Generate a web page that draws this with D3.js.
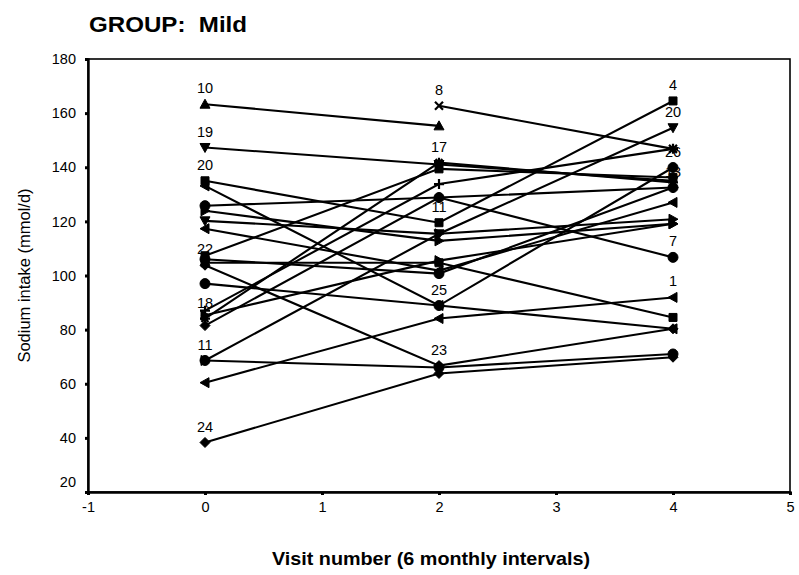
<!DOCTYPE html>
<html>
<head>
<meta charset="utf-8">
<script src="https://cdn.jsdelivr.net/npm/d3@7"></script>
<style>
  body { margin: 0; background: #fff; }
  svg { font-family: "Liberation Sans", Arial, sans-serif; }
</style>
</head>
<body>
<svg id="chart" width="799" height="575"></svg>
<script>
// Visits on the x axis and sodium intake per subject at each visit
const visits = [0, 2, 4];
const xTicks = [-1, 0, 1, 2, 3, 4, 5];
const yTicks = [20, 40, 60, 80, 100, 120, 140, 160, 180];

const visit0 = [163.3, null, 147.3, 135.0, 133.1, 97.0, 104.7, 103.8, 68.6, 38.3, 60.4,
  125.8, 84.1, 87.0, 81.5, 123.9, 120.2, 117.3, 107.3, 68.6, 106.0, 85.3];
const visit2 = [155.3, 162.7, 141.0, 119.5, 88.9, 88.9, 104.7, 66.7, 66.0, 63.8, 84.1,
  128.8, 141.7, 133.8, 128.8, 112.8, 115.4, 101.8, 139.4, 115.4, 100.7, 105.5];
const visit4 = [null, 146.8, 135.0, 164.5, 80.3, 139.9, 84.5, 80.3, 71.0, 69.8, 91.9,
  106.7, 134.4, 146.8, 132.5, 119.1, 154.6, 127.0, 136.2, 120.8, 132.5, 119.1];

// case labels printed above some points
const label0 = ["10", "", "19", "20", "", "", "", "22", "", "24", "", "", "18", "", "", "", "", "", "", "11", "", ""];
const label2 = ["", "8", "", "11", "25", "", "", "23", "", "", "", "", "17", "", "", "", "", "", "", "", "", ""];
const label4 = ["", "", "", "4", "", "26", "", "", "", "", "1", "7", "", "", "13", "", "20", "", "", "", "", ""];

// marker shape for each subject
const shapes = ["up", "x", "down", "square", "left", "circle", "square", "diamond", "circle", "diamond", "left",
  "circle", "star", "plus", "diamond", "right", "down", "left", "square", "right", "circle", "right"];

const width = 799, height = 575;
const margin = { top: 59, right: 9, bottom: 83, left: 88 };

const svg = d3.select("#chart");

const x = d3.scaleLinear().domain([-1, 5]).range([margin.left, width - margin.right]);
const y = d3.scaleLinear().domain([20, 180]).range([height - margin.bottom, margin.top]);

// plain hyphen for negatives, like the original
const fmt = d => String(d);

// plot frame
svg.append("rect")
  .attr("x", x(-1))
  .attr("y", y(180))
  .attr("width", x(5) - x(-1))
  .attr("height", y(20) - y(180))
  .attr("fill", "none")
  .attr("stroke", "#000")
  .attr("stroke-width", 1.6);

// y axis
const yAxis = svg.append("g")
  .attr("transform", `translate(${x(-1)},0)`)
  .call(d3.axisLeft(y).tickValues(yTicks).tickSize(3).tickPadding(9).tickFormat(fmt));
yAxis.select(".domain").attr("stroke-width", 2.4);
yAxis.selectAll(".tick line").attr("stroke-width", 3);
yAxis.selectAll("text")
  .style("font-size", "14.5px")
  .attr("fill", "#000")
  .attr("dy", d => d === 20 ? "-0.35em" : "0.32em");

// x axis
const xAxis = svg.append("g")
  .attr("transform", `translate(0,${y(20)})`)
  .call(d3.axisBottom(x).tickValues(xTicks).tickSize(3).tickPadding(7).tickFormat(fmt));
xAxis.select(".domain").attr("stroke-width", 2.4);
xAxis.selectAll(".tick line").attr("stroke-width", 3);
xAxis.selectAll("text").style("font-size", "14.5px").attr("fill", "#000");

// build one series per subject
const subjects = visit0.map((v, i) => ({
  values: [v, visit2[i], visit4[i]],
  labels: [label0[i], label2[i], label4[i]],
  shape: shapes[i]
}));

const line = d3.line()
  .defined(d => d.v != null)
  .x(d => x(d.visit))
  .y(d => y(d.v));

svg.append("g")
  .selectAll("path")
  .data(subjects)
  .join("path")
  .attr("d", s => line(s.values.map((v, k) => ({ visit: visits[k], v }))))
  .attr("fill", "none")
  .attr("stroke", "#000")
  .attr("stroke-width", 2.1);

// marker paths
function markerPath(shape, r) {
  switch (shape) {
    case "up": return `M0,${-r}L${r},${r * 0.8}L${-r},${r * 0.8}Z`;
    case "down": return `M0,${r}L${r},${-r * 0.8}L${-r},${-r * 0.8}Z`;
    case "left": return `M${-r},0L${r * 0.8},${-r}L${r * 0.8},${r}Z`;
    case "right": return `M${r},0L${-r * 0.8},${-r}L${-r * 0.8},${r}Z`;
    case "square": return `M${-r * 0.8},${-r * 0.8}h${r * 1.6}v${r * 1.6}h${-r * 1.6}Z`;
    case "diamond": return `M0,${-r}L${r},0L0,${r}L${-r},0Z`;
    case "x": return `M${-r * 0.8},${-r * 0.8}L${r * 0.8},${r * 0.8}M${r * 0.8},${-r * 0.8}L${-r * 0.8},${r * 0.8}`;
    case "plus": return `M${-r},0H${r}M0,${-r}V${r}`;
    case "star": return `M${-r},0H${r}M0,${-r}V${r}M${-r * 0.7},${-r * 0.7}L${r * 0.7},${r * 0.7}M${r * 0.7},${-r * 0.7}L${-r * 0.7},${r * 0.7}`;
    default: return d3.symbol(d3.symbolCircle, Math.PI * r * r)();
  }
}

const points = [];
subjects.forEach(s => s.values.forEach((v, k) => {
  if (v != null) points.push({ visit: visits[k], v, shape: s.shape, label: s.labels[k] });
}));

svg.append("g")
  .selectAll("path")
  .data(points)
  .join("path")
  .attr("transform", d => `translate(${x(d.visit)},${y(d.v)})`)
  .attr("d", d => markerPath(d.shape, 5))
  .attr("fill", "#000")
  .attr("stroke", "#000")
  .attr("stroke-width", d => ["x", "plus", "star"].includes(d.shape) ? 2.2 : 1);

svg.append("g")
  .selectAll("text")
  .data(points.filter(d => d.label))
  .join("text")
  .attr("x", d => x(d.visit))
  .attr("y", d => y(d.v) - 16)
  .attr("dy", "0.35em")
  .attr("text-anchor", "middle")
  .style("font-size", "14.5px")
  .text(d => d.label);

// title and axis titles
svg.append("text")
  .attr("x", 89)
  .attr("y", 32)
  .attr("textLength", 158)
  .attr("lengthAdjust", "spacingAndGlyphs")
  .style("font-size", "22px")
  .style("font-weight", "bold")
  .style("white-space", "pre")
  .text("GROUP:  Mild");

svg.append("text")
  .attr("transform", `translate(30,${(y(20) + y(180)) / 2}) rotate(-90)`)
  .attr("text-anchor", "middle")
  .style("font-size", "16.5px")
  .text("Sodium intake (mmol/d)");

svg.append("text")
  .attr("x", 272)
  .attr("y", 565)
  .attr("textLength", 318)
  .attr("lengthAdjust", "spacingAndGlyphs")
  .style("font-size", "19px")
  .style("font-weight", "bold")
  .text("Visit number (6 monthly intervals)");
</script>
</body>
</html>
